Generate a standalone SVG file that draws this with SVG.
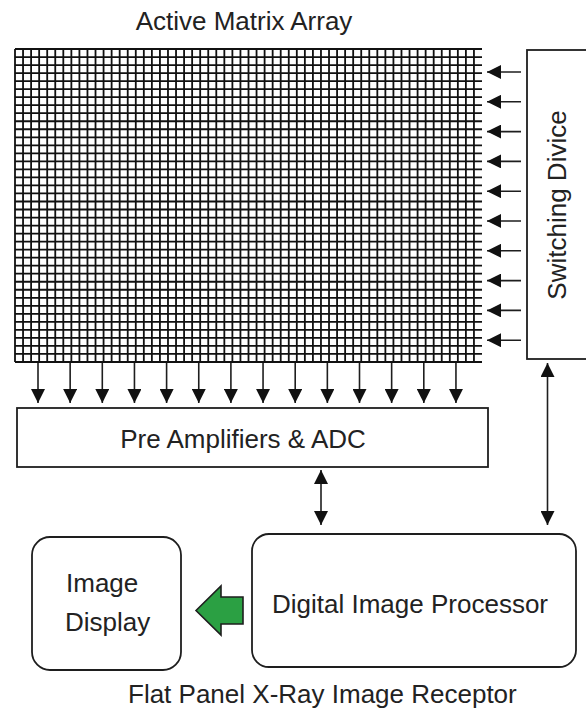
<svg xmlns="http://www.w3.org/2000/svg" width="586" height="710" viewBox="0 0 586 710">
  <style>
    .lbl { font-family: "Liberation Sans", Arial, sans-serif; font-size: 26px; fill: #222; }
    .box { fill: #fff; stroke: #1e1e1e; stroke-width: 1.8; }
    .grid { fill: none; stroke: #111; stroke-width: 1.8; }
    .con { stroke: #1e1e1e; stroke-width: 1.6; fill: none; }
  </style>
  <defs>
    <marker id="ah" markerUnits="userSpaceOnUse" markerWidth="14" markerHeight="14" refX="14" refY="7" orient="auto-start-reverse">
      <path d="M0,0 L14,7 L0,14 Z" fill="#111"/>
    </marker>
  </defs>
  <rect width="586" height="710" fill="#fff"/>

  <text class="lbl" x="244" y="30" text-anchor="middle">Active Matrix Array</text>

  <g id="active-matrix">
    <rect x="15" y="49" width="467" height="313" fill="#fff"/>
    <path class="grid" d="M15,49v313m8.0517,-313v313m8.0517,-313v313m8.0517,-313v313m8.0517,-313v313m8.0517,-313v313m8.0517,-313v313m8.0517,-313v313m8.0517,-313v313m8.0517,-313v313m8.0517,-313v313m8.0517,-313v313m8.0517,-313v313m8.0517,-313v313m8.0517,-313v313m8.0517,-313v313m8.0517,-313v313m8.0517,-313v313m8.0517,-313v313m8.0517,-313v313m8.0517,-313v313m8.0517,-313v313m8.0517,-313v313m8.0517,-313v313m8.0517,-313v313m8.0517,-313v313m8.0517,-313v313m8.0517,-313v313m8.0517,-313v313m8.0517,-313v313m8.0517,-313v313m8.0517,-313v313m8.0517,-313v313m8.0517,-313v313m8.0517,-313v313m8.0517,-313v313m8.0517,-313v313m8.0517,-313v313m8.0517,-313v313m8.0517,-313v313m8.0517,-313v313m8.0517,-313v313m8.0517,-313v313m8.0517,-313v313m8.0517,-313v313m8.0517,-313v313m8.0517,-313v313m8.0517,-313v313m8.0517,-313v313m8.0517,-313v313m8.0517,-313v313m8.0517,-313v313m8.0517,-313v313m8.0517,-313v313m8.0517,-313v313m8.0517,-313v313m8.0517,-313v313m8.0517,-313v313"/>
    <path class="grid" d="M15,49h467m-467,8.0256h467m-467,8.0256h467m-467,8.0256h467m-467,8.0256h467m-467,8.0256h467m-467,8.0256h467m-467,8.0256h467m-467,8.0256h467m-467,8.0256h467m-467,8.0256h467m-467,8.0256h467m-467,8.0256h467m-467,8.0256h467m-467,8.0256h467m-467,8.0256h467m-467,8.0256h467m-467,8.0256h467m-467,8.0256h467m-467,8.0256h467m-467,8.0256h467m-467,8.0256h467m-467,8.0256h467m-467,8.0256h467m-467,8.0256h467m-467,8.0256h467m-467,8.0256h467m-467,8.0256h467m-467,8.0256h467m-467,8.0256h467m-467,8.0256h467m-467,8.0256h467m-467,8.0256h467m-467,8.0256h467m-467,8.0256h467m-467,8.0256h467m-467,8.0256h467m-467,8.0256h467m-467,8.0256h467m-467,8.0256h467"/>
  </g>

  <g id="switching-device">
    <rect class="box" x="527" y="50" width="70" height="309"/>
    <text class="lbl" transform="translate(566,205) rotate(-90)" x="0" y="0" text-anchor="middle">Switching Divice</text>
  </g>

  <g id="pre-amplifiers">
    <rect class="box" x="17" y="408" width="471" height="59"/>
    <text class="lbl" x="243" y="448" text-anchor="middle">Pre Amplifiers &amp; ADC</text>
  </g>

  <g id="digital-image-processor">
    <rect class="box" x="252" y="534" width="324" height="133" rx="17" ry="17"/>
    <text class="lbl" x="410" y="613" text-anchor="middle">Digital Image Processor</text>
  </g>

  <g id="image-display">
    <rect class="box" x="32" y="537" width="149" height="133" rx="18" ry="18"/>
    <text class="lbl" x="66" y="592">Image</text>
    <text class="lbl" x="65" y="631">Display</text>
  </g>

  <text class="lbl" x="128" y="703">Flat Panel X-Ray Image Receptor</text>

  <g id="connectors">
    <g class="con" marker-end="url(#ah)">
      <line x1="521" y1="72" x2="487" y2="72"/>
      <line x1="521" y1="101.8" x2="487" y2="101.8"/>
      <line x1="521" y1="131.6" x2="487" y2="131.6"/>
      <line x1="521" y1="161.4" x2="487" y2="161.4"/>
      <line x1="521" y1="191.2" x2="487" y2="191.2"/>
      <line x1="521" y1="221" x2="487" y2="221"/>
      <line x1="521" y1="250.8" x2="487" y2="250.8"/>
      <line x1="521" y1="280.6" x2="487" y2="280.6"/>
      <line x1="521" y1="310.4" x2="487" y2="310.4"/>
      <line x1="521" y1="340.2" x2="487" y2="340.2"/>
    </g>
    <g class="con" marker-end="url(#ah)">
      <line x1="38" y1="363" x2="38" y2="403"/>
      <line x1="70.15" y1="363" x2="70.15" y2="403"/>
      <line x1="102.3" y1="363" x2="102.3" y2="403"/>
      <line x1="134.45" y1="363" x2="134.45" y2="403"/>
      <line x1="166.6" y1="363" x2="166.6" y2="403"/>
      <line x1="198.75" y1="363" x2="198.75" y2="403"/>
      <line x1="230.9" y1="363" x2="230.9" y2="403"/>
      <line x1="263.05" y1="363" x2="263.05" y2="403"/>
      <line x1="295.2" y1="363" x2="295.2" y2="403"/>
      <line x1="327.35" y1="363" x2="327.35" y2="403"/>
      <line x1="359.5" y1="363" x2="359.5" y2="403"/>
      <line x1="391.65" y1="363" x2="391.65" y2="403"/>
      <line x1="423.8" y1="363" x2="423.8" y2="403"/>
      <line x1="455.95" y1="363" x2="455.95" y2="403"/>
    </g>
    <line class="con" x1="321" y1="470" x2="321" y2="525" marker-start="url(#ah)" marker-end="url(#ah)"/>
    <line class="con" x1="547.5" y1="363" x2="547.5" y2="525" marker-start="url(#ah)" marker-end="url(#ah)"/>
    <polygon points="196,610.5 221,586 221,597 243,597 243,624 221,624 221,635" fill="#2ba043" stroke="#1e1e1e" stroke-width="1.6" stroke-linejoin="miter"/>
  </g>
</svg>
